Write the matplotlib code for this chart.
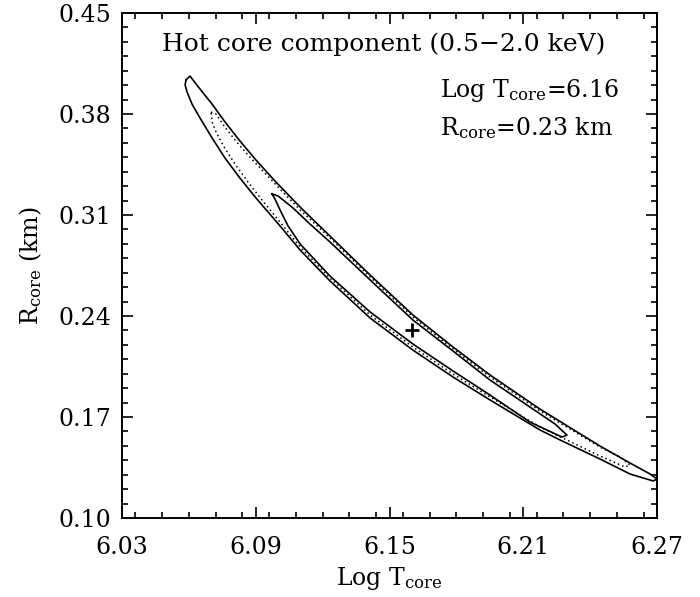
import numpy as np
import matplotlib.pyplot as plt
from matplotlib.ticker import MultipleLocator

# contour outlines (Log T_core, R_core in km)
outer_x = [6.0587, 6.0605, 6.0650, 6.0704, 6.0762, 6.0829, 6.0901, 6.0986, 6.1099, 6.1233,
           6.1413, 6.1605, 6.1785, 6.1951, 6.2175, 6.2444, 6.2579, 6.2669, 6.2700,
           6.2682, 6.2579, 6.2444, 6.2265, 6.2175, 6.1951, 6.1785, 6.1605, 6.1413, 6.1233,
           6.1099, 6.1009, 6.0901, 6.0829, 6.0762, 6.0704, 6.0650, 6.0614, 6.0592, 6.0583]
outer_y = [0.4036, 0.4063, 0.3973, 0.3869, 0.3745, 0.3613, 0.3481, 0.3336, 0.3155, 0.2954,
           0.2684, 0.2407, 0.2185, 0.1991, 0.1755, 0.1499, 0.1381, 0.1305, 0.1270,
           0.1257, 0.1305, 0.1409, 0.1541, 0.1610, 0.1818, 0.1977, 0.2164, 0.2386, 0.2643,
           0.2857, 0.3024, 0.3218, 0.3356, 0.3495, 0.3634, 0.3772, 0.3869, 0.3952, 0.4001]

inner_x = [6.0973, 6.1000, 6.1067, 6.1143, 6.1233, 6.1413, 6.1605, 6.1785, 6.1951, 6.2130,
           6.2242, 6.2296, 6.2274, 6.2130, 6.1951, 6.1785, 6.1605, 6.1413, 6.1233, 6.1099,
           6.1045, 6.1009, 6.0986]
inner_y = [0.3246, 0.3232, 0.3149, 0.3038, 0.2913, 0.2650, 0.2372, 0.2157, 0.1956, 0.1769,
           0.1652, 0.1575, 0.1561, 0.1665, 0.1852, 0.2019, 0.2206, 0.2428, 0.2677, 0.2899,
           0.3024, 0.3135, 0.3211]

dotted_x = [6.0699, 6.0722, 6.0758, 6.0807, 6.0865, 6.0928, 6.1000, 6.1099, 6.1233, 6.1413,
            6.1605, 6.1785, 6.1951, 6.2175, 6.2444, 6.2534, 6.2579,
            6.2556, 6.2444, 6.2175, 6.1951, 6.1785, 6.1605, 6.1413, 6.1233, 6.1099, 6.1009,
            6.0928, 6.0865, 6.0807, 6.0758, 6.0722, 6.0704]
dotted_y = [0.3814, 0.3800, 0.3717, 0.3620, 0.3516, 0.3412, 0.3294, 0.3135, 0.2941, 0.2670,
            0.2393, 0.2171, 0.1977, 0.1742, 0.1492, 0.1423, 0.1367,
            0.1354, 0.1430, 0.1631, 0.1839, 0.1998, 0.2185, 0.2407, 0.2663, 0.2878, 0.3051,
            0.3204, 0.3329, 0.3453, 0.3571, 0.3675, 0.3745]

best_logT = 6.16
best_R = 0.23

x_ticks = [6.03, 6.09, 6.15, 6.21, 6.27]
y_ticks = [0.10, 0.17, 0.24, 0.31, 0.38, 0.45]

plt.rcParams['font.family'] = 'DejaVu Serif'
plt.rcParams['mathtext.fontset'] = 'dejavuserif'

fig = plt.figure(figsize=(7.0, 5.97), dpi=100)
ax = fig.add_axes([0.1743, 0.1323, 0.7643, 0.8459])

def closed(xs, ys):
    return list(xs) + [xs[0]], list(ys) + [ys[0]]

ox, oy = closed(outer_x, outer_y)
ix, iy = closed(inner_x, inner_y)
dx, dy = closed(dotted_x, dotted_y)

ax.plot(ox, oy, color='black', lw=1.2)
ax.plot(ix, iy, color='black', lw=1.2)
ax.plot(dx, dy, color='black', lw=1.1, linestyle=(0, (1, 2)))

ax.plot(best_logT, best_R, marker='+', color='black', markersize=10, mew=2)

ax.set_xlim(6.03, 6.27)
ax.set_ylim(0.10, 0.45)
ax.set_xticks(x_ticks)
ax.set_yticks(y_ticks)
ax.set_xticklabels(['%.2f' % v for v in x_ticks])
ax.set_yticklabels(['%.2f' % v for v in y_ticks])
ax.xaxis.set_minor_locator(MultipleLocator(0.012))
ax.yaxis.set_minor_locator(MultipleLocator(0.01))
ax.tick_params(which='both', direction='in', top=True, right=True, width=1.2, labelsize=17)
ax.tick_params(axis='x', which='major', pad=13)
ax.tick_params(axis='y', which='major', pad=8)
ax.tick_params(which='major', length=8)
ax.tick_params(which='minor', length=4)
for s in ax.spines.values():
    s.set_linewidth(1.4)

ax.set_xlabel(r'Log T$_{\rm core}$', fontsize=17, labelpad=4)
ax.set_ylabel(r'R$_{\rm core}$ (km)', fontsize=17, labelpad=10)

ax.text(0.49, 0.939, 'Hot core component (0.5\u22122.0 keV)', transform=ax.transAxes,
        ha='center', va='center', fontsize=18)
ax.text(0.594, 0.846, r'Log T$_{\rm core}$=6.16', transform=ax.transAxes,
        ha='left', va='center', fontsize=17)
ax.text(0.594, 0.772, r'R$_{\rm core}$=0.23 km', transform=ax.transAxes,
        ha='left', va='center', fontsize=17)

plt.savefig('out.png', dpi=100)
plt.close(fig)
